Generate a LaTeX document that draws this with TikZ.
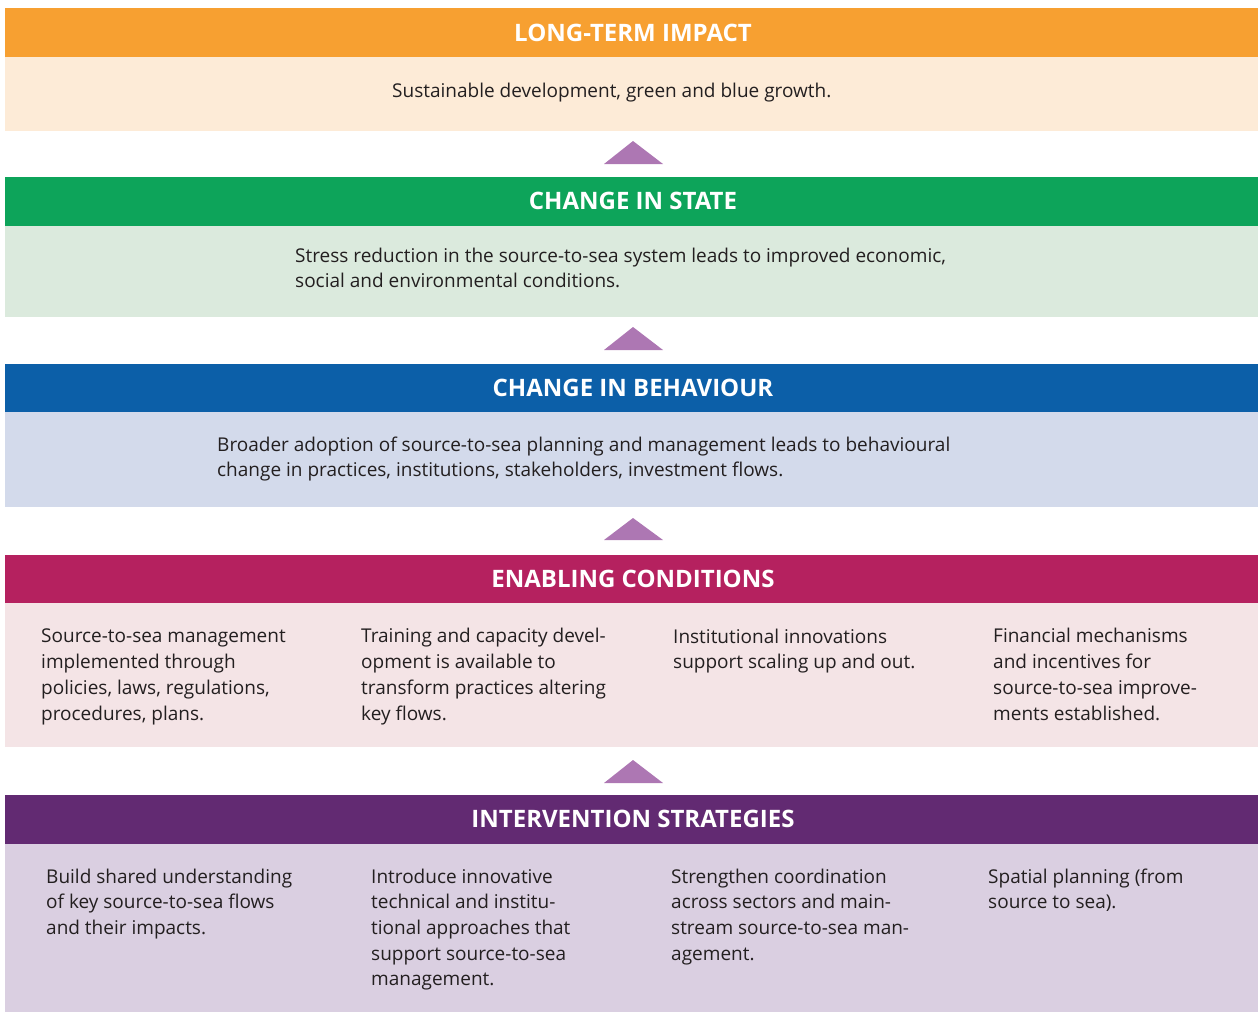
\documentclass[tikz,border=0pt]{standalone}
\usepackage{fontspec}
\setmainfont{Open Sans}
\definecolor{cOrange}{HTML}{F7A031}
\definecolor{cOrangeL}{HTML}{FDEBD7}
\definecolor{cGreen}{HTML}{0DA45A}
\definecolor{cGreenL}{HTML}{DBEADD}
\definecolor{cBlue}{HTML}{0C5FA8}
\definecolor{cBlueL}{HTML}{D3DAEB}
\definecolor{cMag}{HTML}{B5215F}
\definecolor{cMagL}{HTML}{F4E4E6}
\definecolor{cPurp}{HTML}{622A72}
\definecolor{cPurpL}{HTML}{DACFE1}
\definecolor{cTri}{HTML}{AD77B3}
\definecolor{cText}{HTML}{231F20}
\begin{document}
\begin{tikzpicture}[x=1pt,y=-1pt,
  band/.style={draw=none, inner sep=0, outer sep=0, anchor=north west, minimum width=1253pt},
  headtxt/.style={font=\fontsize{24}{28}\selectfont\bfseries, text=white, inner sep=0},
  bodytxt/.style={font=\fontsize{19}{25.7}\selectfont, text=cText, align=left, anchor=base west, inner sep=0},
  uptri/.style={fill=cTri, draw=none}
]
\useasboundingbox (0,0) rectangle (1258,1012);
% bands
\node[band, fill=cOrange, minimum height=49pt] (h1) at (5,8) {};
\node[band, fill=cOrangeL, minimum height=74pt] (b1) at (5,57) {};
\node[band, fill=cGreen, minimum height=49pt] (h2) at (5,177) {};
\node[band, fill=cGreenL, minimum height=91pt] (b2) at (5,226) {};
\node[band, fill=cBlue, minimum height=48pt] (h3) at (5,364) {};
\node[band, fill=cBlueL, minimum height=95pt] (b3) at (5,412) {};
\node[band, fill=cMag, minimum height=48pt] (h4) at (5,555) {};
\node[band, fill=cMagL, minimum height=144pt] (b4) at (5,603) {};
\node[band, fill=cPurp, minimum height=49pt] (h5) at (5,795) {};
\node[band, fill=cPurpL, minimum height=168pt] (b5) at (5,844) {};
% headers
\node[headtxt] (t1) at (633,32.5) {LONG-TERM IMPACT};
\node[headtxt] (t2) at (633,201) {CHANGE IN STATE};
\node[headtxt] (t3) at (633,388) {CHANGE IN BEHAVIOUR};
\node[headtxt] (t4) at (633,579) {ENABLING CONDITIONS};
\node[headtxt] (t5) at (633,819) {INTERVENTION STRATEGIES};
% triangles
\fill[uptri] (604,164) -- (633,141) -- (663,164) -- cycle;
\fill[uptri] (604,350) -- (633,327) -- (663,350) -- cycle;
\fill[uptri] (604,540) -- (633,518) -- (663,540) -- cycle;
\fill[uptri] (604,783) -- (633,760) -- (663,783) -- cycle;
% body texts (anchor = baseline of last line)
\node[bodytxt] (s1) at (392,97) {Sustainable development, green and blue growth.};
\node[bodytxt] (s2) at (295,287.7) {Stress reduction in the source-to-sea system leads to improved economic,\\social and environmental conditions.};
\node[bodytxt] (s3) at (217,476.7) {Broader adoption of source-to-sea planning and management leads to behavioural\\change in practices, institutions, stakeholders, investment flows.};
\node[bodytxt] (e1) at (41,720) {Source-to-sea management\\implemented through\\policies, laws, regulations,\\procedures, plans.};
\node[bodytxt] (e2) at (361,720) {Training and capacity devel-\\opment is available to\\transform practices altering\\key flows.};
\node[bodytxt] (e3) at (673,668.7) {Institutional innovations\\support scaling up and out.};
\node[bodytxt] (e4) at (993,720) {Financial mechanisms\\and incentives for\\source-to-sea improve-\\ments established.};
\node[bodytxt] (i1) at (46,934.4) {Build shared understanding\\of key source-to-sea flows\\and their impacts.};
\node[bodytxt] (i2) at (371,985.8) {Introduce innovative\\technical and institu-\\tional approaches that\\support source-to-sea\\management.};
\node[bodytxt] (i3) at (671,960.1) {Strengthen coordination\\across sectors and main-\\stream source-to-sea man-\\agement.};
\node[bodytxt] (i4) at (988,908.7) {Spatial planning (from\\source to sea).};
\end{tikzpicture}
\end{document}
